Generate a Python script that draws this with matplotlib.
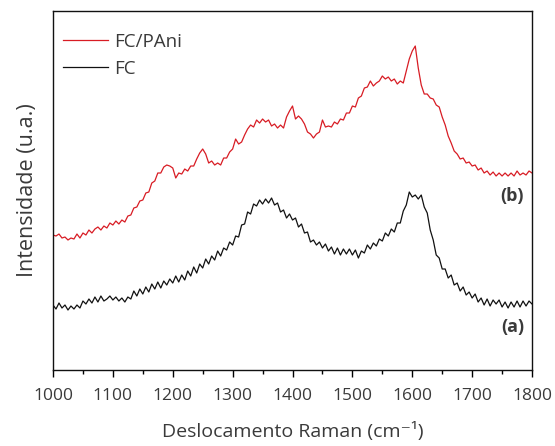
import matplotlib
matplotlib.use("Agg")
import matplotlib.pyplot as plt
import numpy as np
from matplotlib.ticker import MultipleLocator

# Raman shift grid (cm-1), every 5 cm-1 from 1000 to 1800
wavenumber = list(range(1000, 1805, 5))

# FC/PAni (b) intensity, arbitrary units
fc_pani = [
    135, 134, 136, 132, 133, 130, 132, 131, 136, 132,
    137, 135, 140, 137, 141, 143, 140, 144, 142, 147,
    145, 149, 146, 150, 148, 154, 155, 162, 163, 169,
    170, 177, 178, 187, 189, 197, 197, 203, 205, 204,
    202, 192, 197, 196, 201, 199, 204, 204, 211, 217,
    221, 216, 207, 209, 205, 207, 205, 212, 212, 218,
    221, 231, 226, 228, 235, 241, 245, 243, 250, 247,
    251, 248, 250, 244, 246, 242, 245, 242, 253, 259,
    264, 251, 254, 251, 246, 238, 236, 232, 236, 238,
    250, 243, 244, 243, 248, 246, 251, 250, 257, 257,
    264, 263, 272, 274, 282, 283, 289, 284, 287, 289,
    294, 291, 293, 289, 291, 286, 289, 287, 299, 311,
    319, 324, 302, 285, 276, 276, 272, 271, 265, 263,
    253, 245, 234, 227, 219, 216, 211, 212, 207, 208,
    204, 205, 200, 202, 197, 199, 195, 198, 194, 197,
    194, 197, 194, 197, 194, 199, 195, 197, 195, 199,
    197,
]

# FC (a) intensity, arbitrary units
fc = [
    65, 61, 67, 62, 65, 60, 64, 61, 65, 62,
    69, 66, 71, 67, 73, 68, 74, 69, 71, 74,
    70, 73, 69, 72, 68, 73, 71, 79, 74, 81,
    76, 83, 78, 86, 81, 88, 82, 89, 85, 91,
    87, 94, 88, 95, 90, 99, 94, 103, 97, 106,
    102, 111, 106, 114, 110, 119, 114, 122, 120, 128,
    125, 134, 133, 145, 146, 158, 156, 166, 164, 170,
    166, 171, 167, 172, 165, 167, 158, 160, 152, 156,
    150, 152, 143, 146, 137, 138, 128, 130, 125, 128,
    122, 126, 119, 123, 116, 122, 115, 121, 116, 121,
    115, 120, 112, 119, 117, 125, 121, 127, 124, 131,
    129, 137, 134, 141, 138, 147, 147, 159, 165, 178,
    173, 175, 171, 175, 163, 157, 140, 130, 115, 112,
    101, 101, 92, 95, 85, 87, 79, 83, 75, 78,
    72, 76, 68, 72, 65, 71, 64, 70, 66, 70,
    63, 68, 62, 68, 63, 69, 63, 69, 64, 69,
    66,
]

series_labels = ["FC/PAni", "FC"]
curve_tags = ["(b)", "(a)"]
x_ticks = [1000, 1100, 1200, 1300, 1400, 1500, 1600, 1700, 1800]

text_color = "#3a3a3a"
plt.rcParams["font.family"] = ["Open Sans", "DejaVu Sans"]

fig = plt.figure(figsize=(5.55, 4.46), dpi=100)
ax = fig.add_axes([0.0955, 0.1704, 0.8631, 0.8049])

ax.plot(wavenumber, fc_pani, color="#d81c24", lw=0.9, label=series_labels[0])
ax.plot(wavenumber, fc, color="#111111", lw=0.9, label=series_labels[1])

ax.set_xlim(1000, 1800)
ax.set_ylim(0, 359)
ax.set_xticks(x_ticks)
ax.xaxis.set_minor_locator(MultipleLocator(50))
ax.tick_params(axis="x", which="major", direction="out", length=5, width=1,
               labelsize=12.5, labelcolor=text_color, pad=8)
ax.tick_params(axis="x", which="minor", direction="out", length=3, width=1)
ax.set_yticks([])
for s in ax.spines.values():
    s.set_linewidth(1.0)
    s.set_color("#111111")

ax.set_xlabel("Deslocamento Raman (cm\u207b\u00b9)", fontsize=14,
              color=text_color, labelpad=13)
ax.set_ylabel("Intensidade (u.a.)", fontsize=15.5, color=text_color,
              labelpad=11)

leg = ax.legend(loc="upper left", frameon=False, fontsize=13.5,
                handlelength=2.4, handletextpad=0.37, labelspacing=0.5,
                bbox_to_anchor=(0.02, 0.94), borderaxespad=0.0,
                borderpad=0.0)
for t in leg.get_texts():
    t.set_color(text_color)

ax.text(0.983, 0.485, curve_tags[0], transform=ax.transAxes, ha="right",
        va="center", fontsize=13, fontweight="bold", color=text_color)
ax.text(0.983, 0.12, curve_tags[1], transform=ax.transAxes, ha="right",
        va="center", fontsize=13, fontweight="bold", color=text_color)

fig.savefig("out.png", dpi=100)
